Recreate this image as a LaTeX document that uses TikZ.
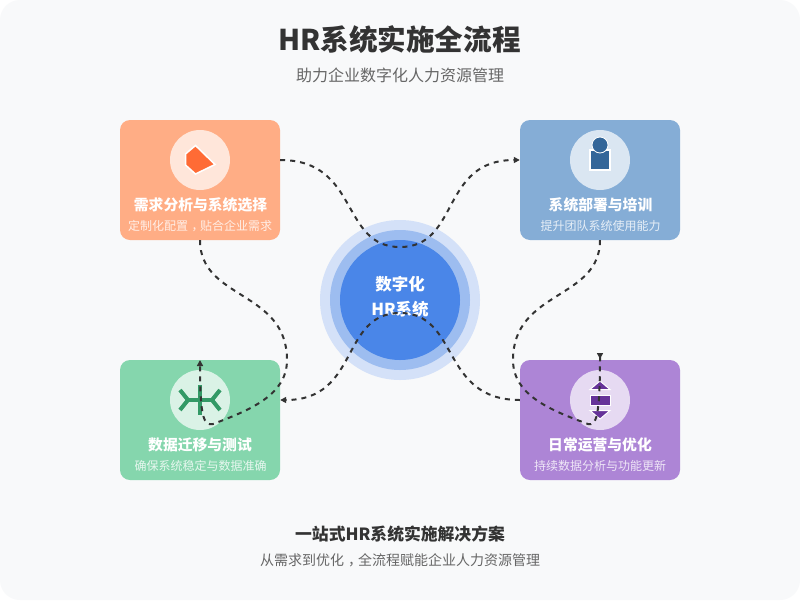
\documentclass[tikz,border=0pt]{standalone}
\usepackage{fontspec}
\setmainfont{Noto Sans CJK SC}
\usetikzlibrary{arrows.meta}
\definecolor{bgc}{HTML}{F8F9FA}
\definecolor{cOrange}{HTML}{FFAD85}
\definecolor{cBlue}{HTML}{85ADD6}
\definecolor{cGreen}{HTML}{85D6AD}
\definecolor{cPurple}{HTML}{AD85D6}
\definecolor{iOrange}{HTML}{FF6B35}
\definecolor{iBlue}{HTML}{336699}
\definecolor{iGreen}{HTML}{339966}
\definecolor{iPurple}{HTML}{663399}
\definecolor{ring1}{HTML}{D4E1F8}
\definecolor{ring2}{HTML}{9DBDF0}
\definecolor{ring3}{HTML}{4A86E8}
\definecolor{tdark}{HTML}{333333}
\definecolor{tgray}{HTML}{666666}
\newcommand{\fs}[1]{\fontsize{#1}{#1}\selectfont}
\newcommand{\cma}{\kern.3em，\kern-.3em}
\tikzset{
  card/.style={rounded corners=10pt,minimum width=160pt,minimum height=120pt,inner sep=0pt,draw=none},
  iconbg/.style={circle,fill=white,fill opacity=.7,minimum size=60pt,inner sep=0pt},
  ring/.style={circle,inner sep=0pt},
  ttl/.style={inner sep=0pt,text=white,font=\fs{14.8}\bfseries},
  sub/.style={inner sep=0pt,text=white,text opacity=.8,font=\fs{12}},
  flow/.style={draw=tdark,line width=2pt,dash pattern=on 5pt off 5pt,-{Triangle[length=6pt,width=6pt]}},
  flowr/.style={draw=tdark,line width=2pt,dash pattern=on 5pt off 5pt,-{Triangle[reversed,length=6pt,width=6pt]}},
  shapeo/.style={draw=white,line width=1.5pt,fill=#1},
  branch/.style={draw=iGreen,line width=4pt}
}
\begin{document}
\begin{tikzpicture}[x=1pt,y=-1pt]
\useasboundingbox (0,0) rectangle (800,600);
\fill[white] (0,0) rectangle (800,600);
\fill[bgc,rounded corners=20pt] (0,0) rectangle (800,600);
\node[inner sep=0pt,text=tdark,font=\fs{28.6}\bfseries] (title) at (399.5,40) {HR系统实施全流程};
\node[inner sep=0pt,text=tgray,font=\fs{16}] (subtitle) at (400,75) {助力企业数字化人力资源管理};
% cards
\node[card,fill=cOrange] (c1) at (200,180) {};
\node[card,fill=cBlue] (c2) at (600,180) {};
\node[card,fill=cGreen] (c3) at (200,420) {};
\node[card,fill=cPurple] (c4) at (600,420) {};
\node[iconbg] (i1) at (200,160) {};
\node[iconbg] (i2) at (600,160) {};
\node[iconbg] (i3) at (200,400) {};
\node[iconbg] (i4) at (600,400) {};
% icons
\draw[shapeo=iOrange] (195.5,145.5) -- (185.5,154) -- (185.5,165) -- (195.5,174) -- (215,164.5) -- cycle;
\draw[shapeo=iBlue] (590,150) rectangle (610,170);
\draw[draw=white,line width=.8pt,fill=iBlue] (600,145) circle (8);
\draw[branch,line width=3.5pt] (200,385) -- (200,415);
\draw[branch] (188,400) -- (212,400);
\draw[branch] (180,390) -- (188,400) -- (180,410);
\draw[branch] (220,390) -- (212,400) -- (220,410);
\draw[draw=white,line width=1pt,fill=iPurple] (600,381) -- (610,389.5) -- (590,389.5) -- cycle;
\draw[draw=white,line width=1pt,fill=iPurple] (590,395) rectangle (610,405);
\draw[draw=white,line width=1pt,fill=iPurple] (600,419) -- (610,410.5) -- (590,410.5) -- cycle;
% centre
\node[ring,fill=ring1,minimum size=160pt] (r1) at (400,300) {};
\node[ring,fill=ring2,minimum size=140pt] (r2) at (400,300) {};
\node[ring,fill=ring3,minimum size=120pt] (r3) at (400,300) {};
\node[inner sep=0pt,text=white,font=\fs{16.5}\bfseries] (m1) at (400,284) {数字化};
\node[inner sep=0pt,text=white,font=\fs{16.5}\bfseries] (m2) at (400,309) {HR系统};
% card texts
\node[ttl] (t1) at (200.5,205) {需求分析与系统选择};
\node[sub] (s1) at (200,226) {定制化配置\cma 贴合企业需求};
\node[ttl] (t2) at (600.5,205) {系统部署与培训};
\node[sub] (s2) at (600.5,226) {提升团队系统使用能力};
\node[ttl] (t3) at (200,445) {数据迁移与测试};
\node[sub] (s3) at (200.5,466) {确保系统稳定与数据准确};
\node[ttl] (t4) at (600,445) {日常运营与优化};
\node[sub] (s4) at (600,466) {持续数据分析与功能更新};
% footer
\node[inner sep=0pt,text=tdark,font=\fs{16.8}\bfseries] (f1) at (400,534) {一站式HR系统实施解决方案};
\node[inner sep=0pt,text=tgray,font=\fs{14}] (f2) at (400,560) {从需求到优化\kern.3em，\kern-.3em 全流程赋能企业人力资源管理};
% connectors
\coordinate (a1) at (c1.east |- i1.center);
\coordinate (a2) at (c2.west |- i2.center);
\coordinate (a3) at (c3.east |- i3.center);
\coordinate (a4) at (c4.west |- i4.center);
\coordinate (e2) at (600,353);
\coordinate (e4) at (200,360);
\draw[flow] (a1) .. controls (360,160) and (340,247) .. (400,247) .. controls (460,247) and (440,160) .. (a2);
\draw[flowr] (c2.south) .. controls (600,300) and (513,290) .. (513,360) .. controls (513,395) and (550,410) .. (588,424) .. controls (596,426) and (600,418) .. (e2);
\draw[flow] (a4) .. controls (440,400) and (460,313) .. (400,313) .. controls (340,313) and (360,400) .. (a3);
\draw[flow] (c1.south) .. controls (200,300) and (287,290) .. (287,360) .. controls (287,395) and (250,410) .. (213,424) .. controls (204,426) and (200,418) .. (e4);
\end{tikzpicture}
\end{document}
